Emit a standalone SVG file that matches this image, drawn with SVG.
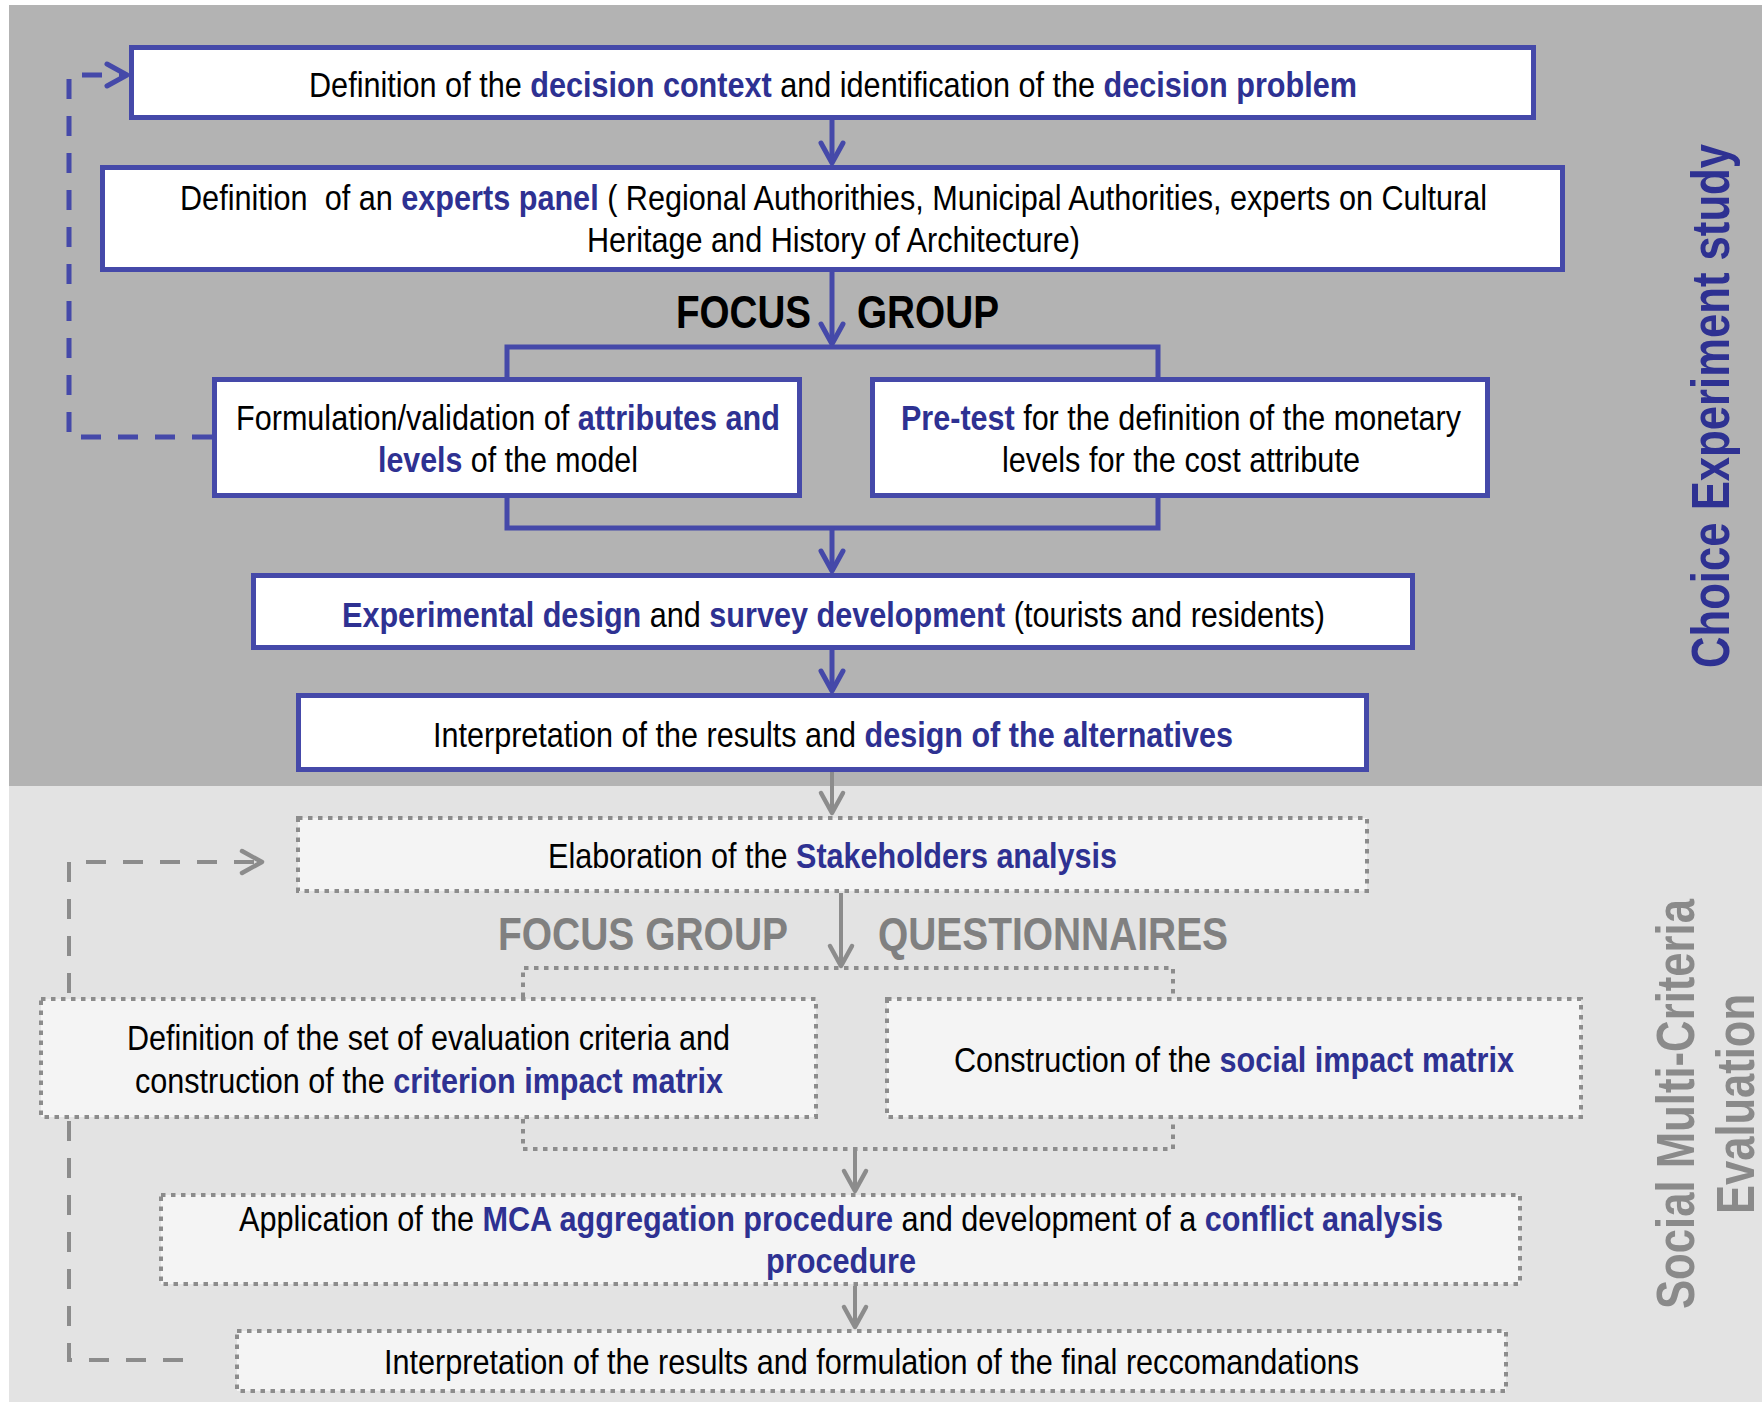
<svg xmlns="http://www.w3.org/2000/svg" width="1762" height="1402" viewBox="0 0 1762 1402">
  <style>
    .t { font-family: "Liberation Sans Narrow", "Liberation Sans", Arial, sans-serif; font-size: 35px; fill: #000; }
    .b { font-weight: 700; fill: #2E3192; }
    .box { fill: #fff; stroke: #4549A9; stroke-width: 5; }
    .dbox { fill: #f4f4f4; stroke: #8c8c8c; stroke-width: 4; stroke-dasharray: 4.5 5.5; }
    .blue { fill: none; stroke: #4549A9; stroke-width: 5; }
    .gray { fill: none; stroke: #8c8c8c; stroke-width: 4; }
    .dot { fill: none; stroke: #8c8c8c; stroke-width: 4; stroke-dasharray: 4.5 5.5; }
    .hdr { font-family: "Liberation Sans Narrow", "Liberation Sans", Arial, sans-serif; font-size: 46px; font-weight: 700; }
    .side { font-family: "Liberation Sans", Arial, sans-serif; font-size: 54px; font-weight: 700; }
  </style>
  <defs>
    <marker id="ab" markerUnits="userSpaceOnUse" viewBox="-26 -16 30 32" refX="0" refY="0" markerWidth="30" markerHeight="32" orient="auto" overflow="visible">
      <path d="M-20,-11 L0,0 L-20,11" fill="none" stroke="#4549A9" stroke-width="5" stroke-linecap="round" stroke-linejoin="round"/>
    </marker>
    <marker id="ag" markerUnits="userSpaceOnUse" viewBox="-26 -16 30 32" refX="0" refY="0" markerWidth="30" markerHeight="32" orient="auto" overflow="visible">
      <path d="M-20,-11 L0,0 L-20,11" fill="none" stroke="#8c8c8c" stroke-width="4.5" stroke-linecap="round" stroke-linejoin="round"/>
    </marker>
  </defs>

  <!-- panels -->
  <rect x="0" y="0" width="1762" height="1402" fill="#fff"/>
  <rect x="9" y="5" width="1753" height="781" fill="#b3b3b3"/>
  <rect x="9" y="786" width="1753" height="616" fill="#e3e3e3"/>

  <!-- section labels -->
  <text class="side" fill="#2E3192" transform="translate(1729,668) rotate(-90)" textLength="524" lengthAdjust="spacingAndGlyphs">Choice Experiment study</text>
  <text class="side" fill="#8a8a8a" transform="translate(1694,1309) rotate(-90)" textLength="410" lengthAdjust="spacingAndGlyphs">Social Multi-Criteria</text>
  <text class="side" fill="#8a8a8a" transform="translate(1754,1214) rotate(-90)" textLength="220" lengthAdjust="spacingAndGlyphs">Evaluation</text>

  <!-- connectors -->
  <g id="connectors">
    <path class="blue" d="M832,120 L832,163" marker-end="url(#ab)"/>
    <path class="blue" d="M832,272 L832,344" marker-end="url(#ab)"/>
    <path class="blue" d="M507,377 L507,347 L1158,347 L1158,377"/>
    <path class="blue" d="M507,498 L507,528 L1158,528 L1158,498"/>
    <path class="blue" d="M832,528 L832,571" marker-end="url(#ab)"/>
    <path class="blue" d="M832,650 L832,691" marker-end="url(#ab)"/>
    <path class="blue" d="M212,437 L69,437 L69,75 L127,75" stroke-dasharray="20 17" marker-end="url(#ab)"/>

    <path class="gray" d="M832,772 L832,813" marker-end="url(#ag)"/>
    <path class="gray" d="M841,893 L841,966" marker-end="url(#ag)"/>
    <path class="dot" d="M523,997 L523,968 L1173,968 L1173,997"/>
    <path class="dot" d="M523,1119 L523,1149 L1173,1149 L1173,1119"/>
    <path class="gray" d="M855,1149 L855,1191" marker-end="url(#ag)"/>
    <path class="gray" d="M855,1286 L855,1327" marker-end="url(#ag)"/>
    <path class="gray" d="M183,1360 L69,1360 L69,862 L262,862" stroke-width="5" stroke-dasharray="20 17" marker-end="url(#ag)"/>
  </g>

  <!-- method labels -->
  <text class="hdr" x="676" y="328" fill="#000" textLength="135" lengthAdjust="spacingAndGlyphs">FOCUS</text>
  <text class="hdr" x="857" y="328" fill="#000" textLength="142" lengthAdjust="spacingAndGlyphs">GROUP</text>
  <text class="hdr" x="498" y="950" fill="#808080" textLength="290" lengthAdjust="spacingAndGlyphs">FOCUS GROUP</text>
  <text class="hdr" x="878" y="950" fill="#808080" textLength="350" lengthAdjust="spacingAndGlyphs">QUESTIONNAIRES</text>

  <!-- Choice Experiment steps -->
  <g id="decision-context">
    <rect class="box" x="131.5" y="47.5" width="1402" height="70"/>
    <text class="t" x="309" y="97" textLength="1048" lengthAdjust="spacingAndGlyphs">Definition of the <tspan class="b">decision context</tspan> and identification of the <tspan class="b">decision problem</tspan></text>
  </g>
  <g id="experts-panel">
    <rect class="box" x="102.5" y="167.5" width="1460" height="102"/>
    <text class="t" x="180" y="210" textLength="1307" lengthAdjust="spacingAndGlyphs" xml:space="preserve">Definition  of an <tspan class="b">experts panel</tspan> ( Regional Authorithies, Municipal Authorities, experts on Cultural</text>
    <text class="t" x="587" y="252" textLength="493" lengthAdjust="spacingAndGlyphs">Heritage and History of Architecture)</text>
  </g>
  <g id="attributes-levels">
    <rect class="box" x="214.5" y="379.5" width="585" height="116"/>
    <text class="t" x="236" y="430" textLength="544" lengthAdjust="spacingAndGlyphs">Formulation/validation of <tspan class="b">attributes and</tspan></text>
    <text class="t" x="378" y="472" textLength="260" lengthAdjust="spacingAndGlyphs"><tspan class="b">levels</tspan> of the model</text>
  </g>
  <g id="pre-test">
    <rect class="box" x="872.5" y="379.5" width="615" height="116"/>
    <text class="t" x="901" y="430" textLength="560" lengthAdjust="spacingAndGlyphs"><tspan class="b">Pre-test</tspan> for the definition of the monetary</text>
    <text class="t" x="1002" y="472" textLength="358" lengthAdjust="spacingAndGlyphs">levels for the cost attribute</text>
  </g>
  <g id="experimental-design">
    <rect class="box" x="253.5" y="575.5" width="1159" height="72"/>
    <text class="t" x="342" y="627" textLength="983" lengthAdjust="spacingAndGlyphs"><tspan class="b">Experimental design</tspan> and <tspan class="b">survey development</tspan> (tourists and residents)</text>
  </g>
  <g id="alternatives-design">
    <rect class="box" x="298.5" y="695.5" width="1068" height="74"/>
    <text class="t" x="433" y="747" textLength="800" lengthAdjust="spacingAndGlyphs">Interpretation of the results and <tspan class="b">design of the alternatives</tspan></text>
  </g>

  <!-- Social Multi-Criteria Evaluation steps -->
  <g id="stakeholders-analysis">
    <rect class="dbox" x="298" y="818" width="1069" height="73"/>
    <text class="t" x="548" y="868" textLength="569" lengthAdjust="spacingAndGlyphs">Elaboration of the <tspan class="b">Stakeholders analysis</tspan></text>
  </g>
  <g id="criterion-matrix">
    <rect class="dbox" x="41" y="999" width="775" height="118"/>
    <text class="t" x="127" y="1050" textLength="603" lengthAdjust="spacingAndGlyphs">Definition of the set of evaluation criteria and</text>
    <text class="t" x="135" y="1093" textLength="588" lengthAdjust="spacingAndGlyphs">construction of the <tspan class="b">criterion impact matrix</tspan></text>
  </g>
  <g id="social-matrix">
    <rect class="dbox" x="887" y="999" width="694" height="118"/>
    <text class="t" x="954" y="1072" textLength="560" lengthAdjust="spacingAndGlyphs">Construction of the <tspan class="b">social impact matrix</tspan></text>
  </g>
  <g id="mca-aggregation">
    <rect class="dbox" x="161" y="1195" width="1359" height="89"/>
    <text class="t" x="239" y="1231" textLength="1204" lengthAdjust="spacingAndGlyphs">Application of the <tspan class="b">MCA aggregation procedure</tspan> and development of a <tspan class="b">conflict analysis</tspan></text>
    <text class="t b" x="766" y="1273" textLength="150" lengthAdjust="spacingAndGlyphs">procedure</text>
  </g>
  <g id="final-recommendations">
    <rect class="dbox" x="237" y="1331" width="1269" height="60"/>
    <text class="t" x="384" y="1374" textLength="975" lengthAdjust="spacingAndGlyphs">Interpretation of the results and formulation of the final reccomandations</text>
  </g>
</svg>
